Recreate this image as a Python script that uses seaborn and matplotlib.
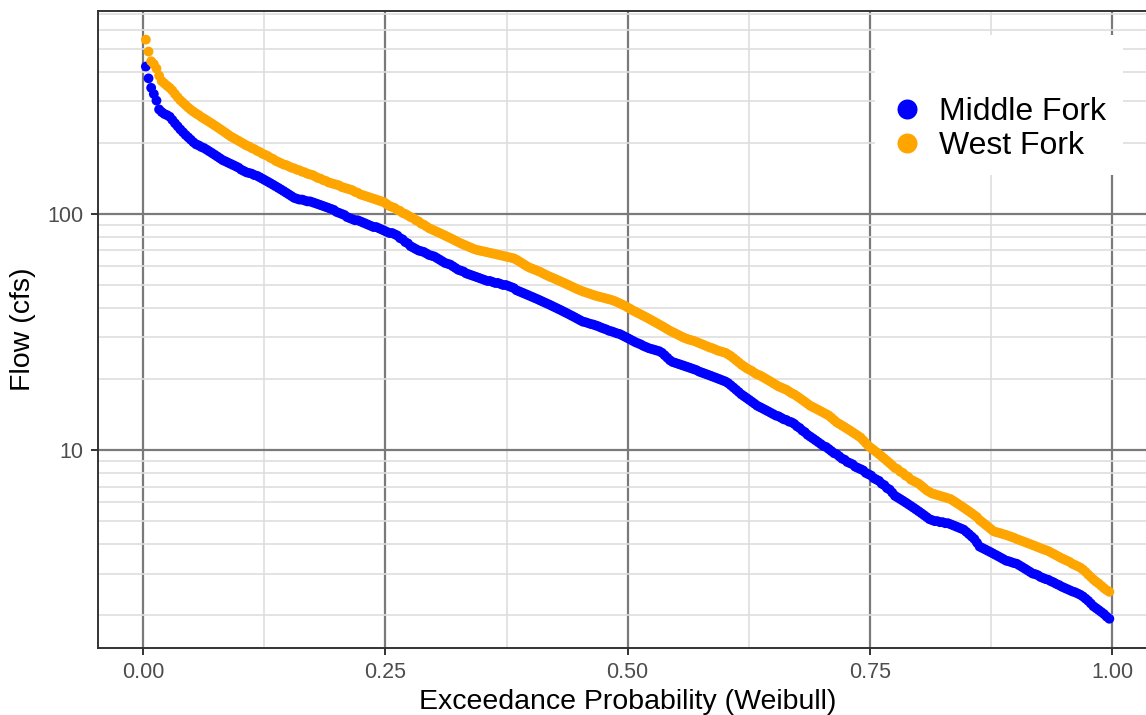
import numpy as np
import pandas as pd
import matplotlib
matplotlib.use("Agg")
import matplotlib.pyplot as plt
from matplotlib.lines import Line2D
from matplotlib.patches import Rectangle
from matplotlib.ticker import LogLocator, NullFormatter
import seaborn as sns

sites = ["Middle Fork", "West Fork"]
site_colors = ["blue", "orange"]

# daily flows (cfs), high to low
middle_fork = [
    421, 375, 342, 322, 302, 277, 270, 265, 262, 258,
    250, 242, 235, 228, 222, 216, 211, 206, 201, 197,
    195, 192, 190, 187, 184, 181, 178, 175, 172, 169,
    167, 165, 163, 161, 159, 157, 154, 152, 150, 149,
    148, 146, 145, 143, 141, 139, 137, 135, 133, 131,
    129, 127, 125, 123, 121, 119, 117, 116, 115, 115,
    114, 113, 113, 112, 111, 110, 109, 108, 107, 106,
    105, 104, 102, 101, 100, 99, 97, 96, 95, 94,
    94, 93, 92, 91, 90, 89, 88, 88, 87, 86,
    85, 84, 83, 83, 82, 81, 79, 78, 76, 75,
    73, 72, 71, 70, 69.5, 69, 68, 67, 66.5, 66,
    65, 64, 63, 62, 61.5, 61, 60, 59, 58, 57.5,
    57, 56, 55.5, 55, 54.5, 54, 53.5, 53, 52.5, 52,
    52, 51.5, 51, 51, 50.5, 50, 50, 49.5, 49, 48.5,
    47.5, 47, 46.5, 46, 45.5, 45, 44.5, 44, 43.5, 43,
    42.5, 42, 41.5, 41, 40.5, 40, 39.5, 39, 38.5, 38,
    37.5, 37, 36.5, 36, 35.5, 35, 34.8, 34.5, 34.2, 34,
    33.7, 33.4, 33, 32.7, 32.4, 32, 31.8, 31.5, 31.2, 31,
    30.6, 30.2, 29.8, 29.4, 29, 28.6, 28.3, 28, 27.6, 27.3,
    27, 26.8, 26.6, 26.4, 26.2, 25.8, 25.2, 24.6, 24, 23.6,
    23.4, 23.2, 23, 22.8, 22.6, 22.4, 22.2, 22, 21.8, 21.5,
    21.3, 21.1, 20.9, 20.7, 20.5, 20.3, 20.1, 19.9, 19.7, 19.5,
    19.2, 18.8, 18.4, 18, 17.6, 17.2, 16.9, 16.6, 16.3, 16,
    15.7, 15.4, 15.2, 15, 14.8, 14.6, 14.4, 14.2, 14, 13.9,
    13.7, 13.5, 13.4, 13.2, 13.1, 12.9, 12.6, 12.4, 12.1, 11.9,
    11.6, 11.4, 11.2, 11, 10.8, 10.6, 10.4, 10.3, 10.1, 9.9,
    9.7, 9.6, 9.4, 9.2, 9.1, 8.9, 8.8, 8.7, 8.5, 8.4,
    8.3, 8.2, 8, 7.9, 7.8, 7.6, 7.5, 7.4, 7.2, 7.1,
    6.9, 6.8, 6.6, 6.4, 6.3, 6.2, 6.1, 6, 5.9, 5.8,
    5.7, 5.6, 5.5, 5.4, 5.3, 5.2, 5.1, 5.05, 5.0, 5.0,
    4.95, 4.95, 4.9, 4.9, 4.85, 4.8, 4.75, 4.7, 4.65, 4.6,
    4.5, 4.4, 4.3, 4.2, 4.05, 3.9, 3.85, 3.8, 3.75, 3.7,
    3.65, 3.6, 3.55, 3.5, 3.45, 3.4, 3.38, 3.35, 3.32, 3.3,
    3.25, 3.2, 3.15, 3.1, 3.05, 3.0, 2.98, 2.95, 2.9, 2.87,
    2.84, 2.82, 2.78, 2.75, 2.71, 2.68, 2.64, 2.61, 2.58, 2.55,
    2.52, 2.5, 2.47, 2.44, 2.4, 2.35, 2.3, 2.24, 2.18, 2.14,
    2.1, 2.06, 2.02, 1.97, 1.93,
]

west_fork = [
    547, 487, 443, 431, 413, 385, 365, 357, 349, 342,
    333, 322, 312, 303, 296, 289, 282, 276, 271, 266,
    262, 257, 253, 249, 245, 241, 237, 233, 229, 225,
    221, 217, 213, 210, 207, 204, 201, 198, 195, 193,
    190, 188, 185, 183, 180, 178, 176, 173, 171, 168,
    166, 164, 162, 161, 159, 157, 156, 154, 153, 151,
    150, 148, 147, 146, 144, 142, 141, 139, 138, 136,
    135, 134, 133, 132, 130, 129, 128, 127, 126, 124,
    123, 121, 120, 119, 118, 117, 116, 115, 114, 113,
    112, 110, 108, 107, 106, 104, 103, 101, 100, 98.5,
    97, 96, 94, 93, 91, 90, 88.5, 87, 86, 85,
    84, 83, 82, 81, 80, 79, 78, 77, 76, 75,
    74.2, 73.4, 72.6, 71.8, 71, 70.4, 70, 69.6, 69.2, 68.8,
    68.4, 68, 67.6, 67.2, 66.8, 66.4, 66, 65.6, 65.2, 64.8,
    64, 63, 62, 61, 60, 59.2, 58.6, 58, 57.4, 56.8,
    56, 55.3, 54.6, 54, 53.4, 52.8, 52.2, 51.6, 51, 50.4,
    49.8, 49.2, 48.6, 48, 47.5, 47, 46.6, 46.2, 45.8, 45.4,
    45, 44.7, 44.4, 44.1, 43.8, 43.5, 43.2, 42.8, 42.3, 41.8,
    41.3, 40.8, 40.2, 39.6, 39, 38.5, 38, 37.5, 37, 36.5,
    36, 35.5, 35, 34.5, 34, 33.5, 33, 32.5, 32, 31.6,
    31.2, 30.8, 30.4, 30, 29.7, 29.4, 29.2, 29, 28.7, 28.4,
    28.1, 27.8, 27.5, 27.2, 27, 26.7, 26.4, 26.2, 26, 25.8,
    25.4, 25, 24.5, 24, 23.5, 23, 22.6, 22.2, 21.9, 21.6,
    21.2, 20.9, 20.7, 20.4, 20.1, 19.8, 19.5, 19.2, 18.9, 18.6,
    18.4, 18.2, 18, 17.7, 17.4, 17.2, 16.9, 16.6, 16.3, 16,
    15.7, 15.4, 15.2, 15, 14.8, 14.6, 14.4, 14.2, 14, 13.7,
    13.4, 13.1, 12.9, 12.7, 12.5, 12.3, 12.1, 11.9, 11.7, 11.5,
    11.3, 11, 10.7, 10.4, 10.2, 10, 9.8, 9.6, 9.4, 9.2,
    9, 8.8, 8.6, 8.4, 8.3, 8.1, 8, 7.8, 7.7, 7.5,
    7.4, 7.3, 7.2, 7.05, 6.9, 6.75, 6.65, 6.55, 6.5, 6.45,
    6.4, 6.35, 6.3, 6.25, 6.2, 6.1, 6.0, 5.9, 5.8, 5.7,
    5.6, 5.5, 5.4, 5.3, 5.2, 5.05, 4.95, 4.85, 4.75, 4.65,
    4.55, 4.5, 4.47, 4.44, 4.4, 4.37, 4.33, 4.29, 4.25, 4.2,
    4.16, 4.12, 4.08, 4.04, 4.0, 3.96, 3.92, 3.88, 3.84, 3.8,
    3.77, 3.73, 3.68, 3.63, 3.58, 3.53, 3.48, 3.44, 3.4, 3.36,
    3.3, 3.26, 3.22, 3.18, 3.12, 3.05, 2.97, 2.9, 2.83, 2.77,
    2.72, 2.66, 2.6, 2.55, 2.51,
]

x_ticks = [0, 0.25, 0.5, 0.75, 1.0]
x_tick_labels = ["0.00", "0.25", "0.50", "0.75", "1.00"]
x_minor = [0.125, 0.375, 0.625, 0.875]
y_ticks = [10, 100]
y_tick_labels = ["10", "100"]


def weibull(flows):
    # exceedance probability = rank / (n + 1)
    n = len(flows)
    return np.arange(1, n + 1) / (n + 1)


frames = []
for site, flows in zip(sites, [middle_fork, west_fork]):
    q = np.sort(np.asarray(flows, dtype=float))[::-1]
    frames.append(pd.DataFrame({"site": site, "flow": q, "exceed": weibull(q)}))
df = pd.concat(frames, ignore_index=True)

sns.set_style("white")
plt.rcParams["font.family"] = ["Liberation Sans", "DejaVu Sans"]

W, H = 1146, 715
fig = plt.figure(figsize=(W / 100, H / 100), dpi=100)
# panel runs a little past the right edge, like the reference crop
ax = fig.add_axes([97.7 / W, 1 - 647.7 / H, (1157.5 - 97.7) / W, (647.7 - 10.7) / H])

sns.scatterplot(data=df, x="exceed", y="flow", hue="site",
                palette=dict(zip(sites, site_colors)), s=50, linewidth=0,
                legend=False, ax=ax, zorder=3)

ax.set_yscale("log")

# ggplot-style 5% expansion
xlo, xhi = df["exceed"].min(), df["exceed"].max()
ax.set_xlim(xlo - 0.05 * (xhi - xlo), xhi + 0.05 * (xhi - xlo))
llo, lhi = np.log10(df["flow"].min()), np.log10(df["flow"].max())
ax.set_ylim(10 ** (llo - 0.05 * (lhi - llo)), 10 ** (lhi + 0.05 * (lhi - llo)))

ax.set_xticks(x_ticks)
ax.set_xticklabels(x_tick_labels)
ax.set_xticks(x_minor, minor=True)
ax.set_yticks(y_ticks)
ax.set_yticklabels(y_tick_labels)
ax.yaxis.set_minor_locator(LogLocator(base=10, subs=np.arange(2, 10)))
ax.yaxis.set_minor_formatter(NullFormatter())

ax.set_axisbelow(True)
ax.grid(which="major", color="#7a7a7a", linewidth=1.6)
ax.grid(which="minor", color="#dedede", linewidth=1.2)

for sp in ax.spines.values():
    sp.set_color("#333333")
    sp.set_linewidth(1.4)

ax.tick_params(which="major", length=5.3, width=1.4, color="#333333",
               labelcolor="#4d4d4d", labelsize=15.5, pad=5, left=True, bottom=True)
ax.tick_params(which="minor", length=0)

ax.set_xlabel("Exceedance Probability (Weibull)", fontsize=20.5, color="black", labelpad=4)
ax.set_ylabel("Flow (cfs)", fontsize=20.5, color="black", labelpad=8)

# white legend box laid over the grid
ax.add_patch(Rectangle((875 / W, 1 - 175 / H), 248 / W, 140 / H,
                       transform=fig.transFigure, facecolor="white",
                       edgecolor="none", zorder=4, clip_on=False))
handles = [Line2D([], [], marker="o", linestyle="", markersize=14.4,
                  markerfacecolor=c, markeredgewidth=0) for c in site_colors]
leg = ax.legend(handles, sites, loc="center left",
                bbox_to_anchor=(891 / W, 1 - 129 / H), bbox_transform=fig.transFigure,
                frameon=False, fontsize=23, labelcolor="black",
                handlelength=1.0, handletextpad=0.5,
                labelspacing=0.14, borderpad=0, borderaxespad=0)
leg.set_zorder(5)

fig.savefig("out.png", dpi=100)
